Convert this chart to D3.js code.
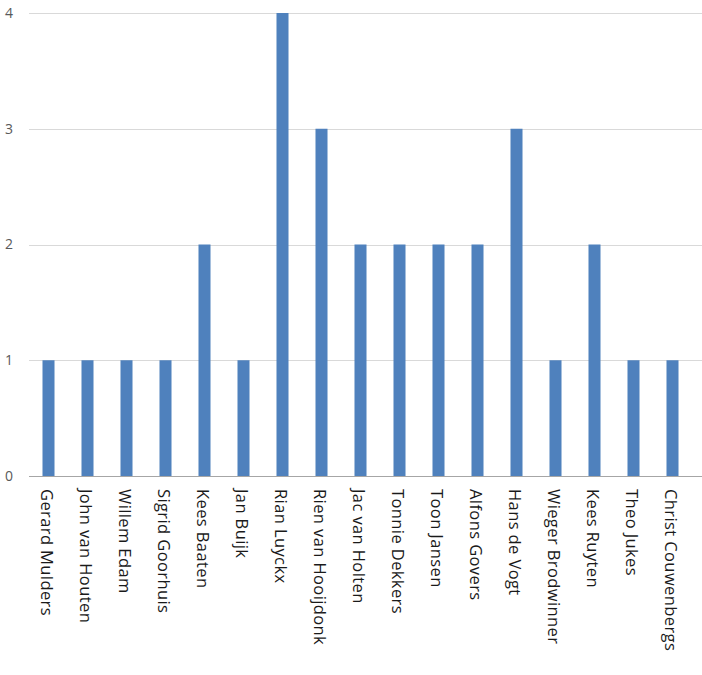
<!DOCTYPE html>
<html>
<head>
<meta charset="utf-8">
<script src="https://cdn.jsdelivr.net/npm/d3@7"></script>
<style>
  html, body { margin: 0; padding: 0; background: #fff; }
  svg { display: block; }
</style>
</head>
<body>
<svg id="chart" width="702" height="675"></svg>
<script>
const categories = ["Gerard Mulders", "John van Houten", "Willem Edam", "Sigrid Goorhuis", "Kees Baaten", "Jan Buijk", "Rian Luyckx", "Rien van Hooijdonk", "Jac van Holten", "Tonnie Dekkers", "Toon Jansen", "Alfons Govers", "Hans de Vogt", "Wieger Brodwinner", "Kees Ruyten", "Theo Jukes", "Christ Couwenbergs"];
const values = [1, 1, 1, 1, 2, 1, 4, 3, 2, 2, 2, 2, 3, 1, 2, 1, 1];
const yTicks = [0, 1, 2, 3, 4];

const svg = d3.select("#chart");
const plotLeft = 29, plotRight = 692, gridRight = 702, plotTop = 13, plotBottom = 476;

const x = d3.scaleBand().domain(categories).range([plotLeft, plotRight])
  .paddingInner(0.692).paddingOuter(0.346);
const y = d3.scaleLinear().domain([0, 4]).range([plotBottom, plotTop]);

// gridlines
svg.append("g").selectAll("line").data(yTicks.filter(d => d > 0)).join("line")
  .attr("x1", plotLeft).attr("x2", gridRight)
  .attr("y1", d => Math.round(y(d)) + 0.5).attr("y2", d => Math.round(y(d)) + 0.5)
  .attr("stroke", "#d9d9d9").attr("stroke-width", 1);

// bars
svg.append("g").selectAll("rect").data(values).join("rect")
  .attr("x", (d, i) => x(categories[i]))
  .attr("width", x.bandwidth())
  .attr("y", d => y(d))
  .attr("height", d => y(0) - y(d))
  .attr("fill", "#4f81bd");

// x axis line
svg.append("line").attr("x1", plotLeft).attr("x2", gridRight)
  .attr("y1", plotBottom + 0.5).attr("y2", plotBottom + 0.5)
  .attr("stroke", "#a6a6a6").attr("stroke-width", 1);

// y tick labels
const yAxis = d3.axisLeft(y).tickValues(yTicks).tickSize(0).tickPadding(0).tickFormat(d3.format("d"));
const gy = svg.append("g").attr("transform", "translate(13,0)").call(yAxis);
gy.select(".domain").remove();
gy.selectAll("text").attr("fill", "#595959")
  .style("font-family", "'Open Sans', sans-serif").style("font-size", "14px");

// x labels
const xAxis = d3.axisBottom(x).tickSize(0).tickPadding(0);
const gx = svg.append("g").attr("transform", `translate(0,${plotBottom})`).call(xAxis);
gx.select(".domain").remove();
gx.selectAll("text")
  .attr("transform", "rotate(90)")
  .attr("x", 13).attr("y", 0).attr("dy", "8px")
  .attr("text-anchor", "start")
  .attr("fill", "#1a1a1a")
  .style("font-family", "'Open Sans', sans-serif").style("font-size", "16.5px")
  .style("letter-spacing", "0.4px");
</script>
</body>
</html>
